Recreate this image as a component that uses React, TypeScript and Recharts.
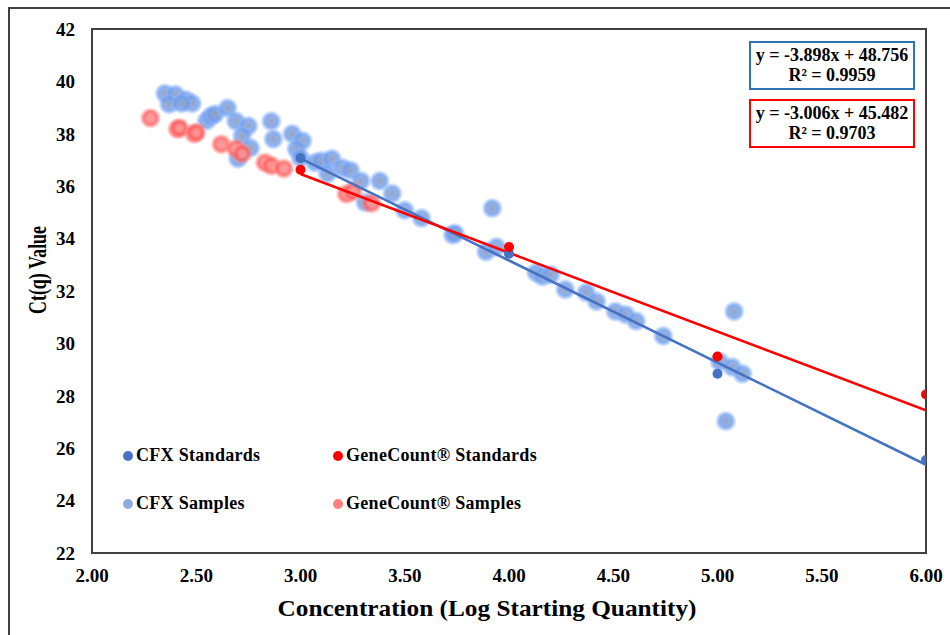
import React from "react";
import {
  ScatterChart,
  Scatter,
  XAxis,
  YAxis,
  ReferenceArea,
} from "recharts";

const xTicks = [2.0, 2.5, 3.0, 3.5, 4.0, 4.5, 5.0, 5.5, 6.0];
const yTicks = [22, 24, 26, 28, 30, 32, 34, 36, 38, 40, 42];

const cfxStandards = [
  { x: 3, y: 37.08 },
  { x: 4, y: 33.42 },
  { x: 5, y: 28.84 },
  { x: 6, y: 25.55 },
];

const geneStandards = [
  { x: 3, y: 36.63 },
  { x: 4, y: 33.68 },
  { x: 5, y: 29.5 },
  { x: 6, y: 28.05 },
];

const cfxSamples = [
  { x: 2.35, y: 39.54 },
  { x: 2.4, y: 39.5 },
  { x: 2.45, y: 39.3 },
  { x: 2.48, y: 39.16 },
  { x: 2.37, y: 39.13 },
  { x: 2.43, y: 39.16 },
  { x: 2.55, y: 38.5 },
  { x: 2.57, y: 38.67 },
  { x: 2.59, y: 38.75 },
  { x: 2.65, y: 38.98 },
  { x: 2.69, y: 38.48 },
  { x: 2.75, y: 38.3 },
  { x: 2.72, y: 37.92 },
  { x: 2.76, y: 37.46 },
  { x: 2.7, y: 37.05 },
  { x: 2.86, y: 38.48 },
  { x: 2.87, y: 37.8 },
  { x: 2.96, y: 38.0 },
  { x: 3.01, y: 37.73 },
  { x: 2.98, y: 37.42 },
  { x: 3.0, y: 37.08 },
  { x: 3.07, y: 36.9 },
  { x: 3.1, y: 36.97 },
  { x: 3.15, y: 37.05 },
  { x: 3.13, y: 36.48 },
  { x: 3.2, y: 36.7 },
  { x: 3.24, y: 36.6 },
  { x: 3.29, y: 36.2 },
  { x: 3.38, y: 36.2 },
  { x: 3.44, y: 35.72 },
  { x: 3.31, y: 35.38 },
  { x: 3.5, y: 35.08 },
  { x: 3.58, y: 34.78 },
  { x: 3.73, y: 34.14 },
  { x: 3.74, y: 34.2 },
  { x: 3.92, y: 35.16 },
  { x: 3.89, y: 33.5 },
  { x: 3.94, y: 33.68 },
  { x: 4.13, y: 32.7 },
  { x: 4.16, y: 32.55 },
  { x: 4.2, y: 32.62 },
  { x: 4.27, y: 32.06 },
  { x: 4.37, y: 31.94 },
  { x: 4.42, y: 31.6 },
  { x: 4.51, y: 31.22 },
  { x: 4.56, y: 31.1 },
  { x: 4.61, y: 30.85 },
  { x: 4.74, y: 30.28 },
  { x: 5.08, y: 31.22 },
  { x: 5.01, y: 29.3 },
  { x: 5.07, y: 29.1 },
  { x: 5.12, y: 28.84 },
  { x: 5.04, y: 27.03 },
];

const geneSamples = [
  { x: 2.28, y: 38.6 },
  { x: 2.41, y: 38.18 },
  { x: 2.42, y: 38.22 },
  { x: 2.49, y: 38.0 },
  { x: 2.5, y: 38.05 },
  { x: 2.62, y: 37.6 },
  { x: 2.69, y: 37.43 },
  { x: 2.72, y: 37.24 },
  { x: 2.83, y: 36.9 },
  { x: 2.86, y: 36.78 },
  { x: 2.92, y: 36.67 },
  { x: 3.22, y: 35.7 },
  { x: 3.25, y: 35.8 },
  { x: 3.34, y: 35.35 },
];

const cfxTrend = [
  { x: 3, y: 37.062 },
  { x: 6, y: 25.368 },
];

const geneTrend = [
  { x: 3, y: 36.464 },
  { x: 6, y: 27.446 },
];

const cfxEquation = ["y = -3.898x + 48.756", "R² = 0.9959"];
const geneEquation = ["y = -3.006x + 45.482", "R² = 0.9703"];

const xTitle = "Concentration (Log Starting Quantity)";
const yTitle = "Ct(q) Value";

const legendItems = [
  { label: "CFX Standards", color: "#4472C4" },
  { label: "GeneCount® Standards", color: "#FF0000" },
  { label: "CFX Samples", color: "#8FAADC" },
  { label: "GeneCount® Samples", color: "#FF8080" },
];

const FONT = '"Liberation Serif", "Times New Roman", serif';

const makeBlob = (id: string, stops: [number, string, number][]) => (props: any) => {
  const { cx, cy } = props;
  if (cx == null || cy == null) return null;
  return (
    <g>
      <defs>
        <radialGradient id={id} cx="50%" cy="50%" r="50%">
          {stops.map((s, i) => (
            <stop key={i} offset={s[0]} stopColor={s[1]} stopOpacity={s[2]} />
          ))}
        </radialGradient>
      </defs>
      <circle cx={cx} cy={cy} r={11} fill={`url(#${id})`} />
    </g>
  );
};

const BlueBlob = makeBlob("blueBlob", [
  [0, "#8c9fc0", 0.95],
  [0.3, "#8aa4d4", 0.9],
  [0.6, "#6b9cf0", 0.8],
  [0.82, "#86aff6", 0.45],
  [1, "#a9c6fa", 0],
]);

const RedBlob = makeBlob("redBlob", [
  [0, "#f29a9a", 0.95],
  [0.3, "#ff8a8a", 0.9],
  [0.6, "#ff5a5a", 0.8],
  [0.82, "#ff8080", 0.45],
  [1, "#ffaaaa", 0],
]);

const dot = (color: string) => (props: any) => {
  const { cx, cy } = props;
  if (cx == null || cy == null) return null;
  return <circle cx={cx} cy={cy} r={5} fill={color} />;
};

const noShape = () => null;

const XTitle = (props: any) => {
  const vb = props.viewBox || {};
  const cx = vb.x + vb.width / 2 - 22;
  return (
    <text
      x={cx}
      y={vb.y + vb.height + 33}
      textAnchor="middle"
      textLength={419}
      lengthAdjust="spacingAndGlyphs"
      style={{ fontFamily: FONT, fontWeight: "bold", fontSize: 23, fill: "#000" }}
    >
      {xTitle}
    </text>
  );
};

const YTitle = (props: any) => {
  const vb = props.viewBox || {};
  const x = vb.x + 25;
  const y = vb.y + vb.height / 2 - 21;
  return (
    <text
      x={x}
      y={y}
      transform={`rotate(-90 ${x} ${y})`}
      textAnchor="middle"
      dominantBaseline="central"
      textLength={88}
      lengthAdjust="spacingAndGlyphs"
      style={{ fontFamily: FONT, fontWeight: "bold", fontSize: 26, fill: "#000" }}
    >
      {yTitle}
    </text>
  );
};

const EqBox = ({ lines, color, top }: { lines: string[]; color: string; top: number }) => (
  <div
    style={{
      position: "absolute",
      left: 749,
      top,
      width: 162,
      height: 43,
      border: `2px solid ${color}`,
      fontFamily: FONT,
      fontWeight: "bold",
      fontSize: 18,
      lineHeight: "20px",
      textAlign: "center",
      color: "#000",
      paddingTop: 2,
      boxSizing: "content-box",
    }}
  >
    <div>{lines[0]}</div>
    <div>{lines[1]}</div>
  </div>
);

export default function App() {
  const tickStyle = { fontFamily: FONT, fontWeight: "bold", fontSize: 19, fill: "#000" };
  return (
    <div
      style={{
        position: "absolute",
        left: 0,
        top: 0,
        width: 950,
        height: 635,
        background: "#fff",
        overflow: "hidden",
      }}
    >
      <div
        style={{
          position: "absolute",
          left: 8,
          top: 7,
          width: 960,
          height: 640,
          borderTop: "2px solid #404040",
          borderLeft: "2px solid #404040",
        }}
      />
      <ScatterChart
        width={950}
        height={635}
        margin={{ top: 29, right: 24, bottom: 52, left: 12 }}
      >
        <XAxis
          type="number"
          dataKey="x"
          domain={[2, 6]}
          ticks={xTicks}
          tickFormatter={(v: number) => v.toFixed(2)}
          axisLine={false}
          tickLine={false}
          tick={tickStyle}
          tickMargin={10}
          height={30}
          allowDataOverflow
          label={<XTitle />}
        />
        <YAxis
          type="number"
          dataKey="y"
          domain={[22, 42]}
          ticks={yTicks}
          axisLine={false}
          tickLine={false}
          tick={tickStyle}
          tickMargin={11}
          width={80}
          allowDataOverflow
          label={<YTitle />}
        />
        <ReferenceArea
          x1={2}
          x2={6}
          y1={22}
          y2={42}
          fill="none"
          stroke="#404040"
          strokeWidth={2}
          ifOverflow="visible"
        />
        <Scatter data={cfxSamples} shape={BlueBlob} isAnimationActive={false} />
        <Scatter data={geneSamples} shape={RedBlob} isAnimationActive={false} />
        <Scatter
          data={cfxTrend}
          line={{ stroke: "#4472C4", strokeWidth: 2.5 }}
          shape={noShape}
          isAnimationActive={false}
        />
        <Scatter
          data={geneTrend}
          line={{ stroke: "#FF0000", strokeWidth: 2.5 }}
          shape={noShape}
          isAnimationActive={false}
        />
        <Scatter data={cfxStandards} shape={dot("#4472C4")} isAnimationActive={false} />
        <Scatter data={geneStandards} shape={dot("#FF0000")} isAnimationActive={false} />
      </ScatterChart>
      <EqBox lines={cfxEquation} color="#2E75B6" top={41} />
      <EqBox lines={geneEquation} color="#FF0000" top={99} />
      {legendItems.map((item, i) => {
        const col = i % 2;
        const row = Math.floor(i / 2);
        return (
          <div
            key={item.label}
            style={{
              position: "absolute",
              left: col === 0 ? 123 : 333,
              top: row === 0 ? 445 : 493,
              display: "flex",
              alignItems: "center",
              fontFamily: FONT,
              fontWeight: "bold",
              fontSize: 18,
              letterSpacing: 0.3,
              color: "#000",
              whiteSpace: "nowrap",
            }}
          >
            <span
              style={{
                display: "inline-block",
                width: 10,
                height: 10,
                borderRadius: 5,
                background: item.color,
                marginRight: 3,
              }}
            />
            <span>{item.label}</span>
          </div>
        );
      })}
    </div>
  );
}
